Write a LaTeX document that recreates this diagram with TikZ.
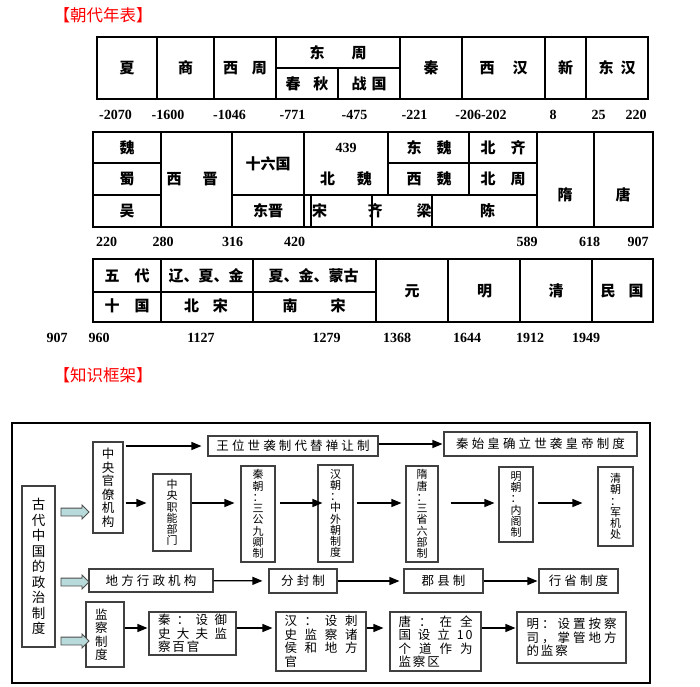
\documentclass[tikz,border=0pt]{standalone}
\usepackage{fontspec}
\usetikzlibrary{arrows.meta,shapes.arrows}
\newfontfamily\cjk{Noto Sans CJK SC}
\newfontfamily\cjkh[LetterSpace=25]{Noto Sans CJK SC}
\newfontfamily\cjkj[LetterSpace=15]{Noto Sans CJK SC}
\newfontfamily\numfont{Liberation Serif}
\definecolor{paleteal}{HTML}{B8DADA}
\newcommand{\jrow}[2]{\makebox[#1][s]{#2}}

\begin{document}
\begin{tikzpicture}[x=1pt,y=1pt,yscale=-1,
  tline/.style={line width=1.2pt},
  cell/.style={font=\cjk\bfseries\fontsize{15}{17}\selectfont, inner sep=0.75pt},
  yr/.style={font=\numfont\bfseries\fontsize{14}{16}\selectfont, inner sep=0.75pt},
  ttl/.style={font=\cjk\fontsize{16.5}{18}\selectfont, text=red, inner sep=0.75pt},
  fbox/.style={draw=black!75, line width=1.1pt, inner sep=0pt},
  vbox/.style={fbox, align=center, font=\cjk\fontsize{11}{11.25}\selectfont},
  hbox/.style={fbox, font=\cjkh\fontsize{12.5}{14}\selectfont},
  jbox/.style={fbox, align=left, font=\cjkj\fontsize{12.5}{13.5}\selectfont},
  arr/.style={-{Triangle[length=10pt,width=8pt]}, line width=1.2pt},
  fat/.style={single arrow, draw=black!70, fill=paleteal, line width=0.8pt, inner xsep=0pt,
    inner ysep=3.5pt, minimum height=28pt, single arrow head extend=3pt}]
\useasboundingbox (0,0) rectangle (700,686);

\node[ttl] (t1) at (103,15) {【朝代年表】};
\node[ttl] (t2) at (103,375) {【知识框架】};

\draw[tline] (97,37) rectangle (648,99);
\foreach \x in {157,214,276,400,462,545,586} \draw[tline] (\x,37) -- (\x,99);
\draw[tline] (276,68) -- (400,68);
\draw[tline] (338,68) -- (338,99);

\node[cell] (xia) at (127,68) {夏};
\node[cell] (shang) at (185.5,68) {商};
\node[cell] (xizhou) at (245,68) {西\hspace{14pt}周};
\node[cell] (dongzhou) at (338,52.5) {东\hspace{27pt}周};
\node[cell] (chunqiu) at (307,83.5) {春\hspace{13pt}秋};
\node[cell] (zhanguo) at (369,83.5) {战\hspace{5pt}国};
\node[cell] (qin) at (431,68) {秦};
\node[cell] (xihan) at (503.5,68) {西\hspace{18pt}汉};
\node[cell] (xin) at (565.5,68) {新};
\node[cell] (donghan) at (617,68) {东\hspace{7pt}汉};

\foreach \t/\x [count=\i] in {-2070/115.5,-1600/168,-1046/229.5,-771/292.5,-475/354.5,-221/414.5,-206-202/481,8/553,25/598.5,220/636}
  \node[yr] (ya\i) at (\x,115) {\t};

\draw[tline] (93,132) rectangle (653,227);
\foreach \x in {161,232,304,537,594} \draw[tline] (\x,132) -- (\x,227);
\draw[tline] (93,163) -- (161,163) (388,163) -- (537,163);
\draw[tline] (93,195) -- (161,195) (232,195) -- (537,195);
\foreach \x in {388,469} \draw[tline] (\x,132) -- (\x,195);
\foreach \x in {311,372,432} \draw[tline] (\x,195) -- (\x,227);

\node[cell] (wei) at (127,147.5) {魏};
\node[cell] (shu) at (127,179) {蜀};
\node[cell] (wu) at (127,211) {吴};
\node[cell] (xijin) at (192,179.5) {西\hspace{21pt}晋};
\node[cell] (shiliu) at (268,163.5) {十六国};
\node[cell] (dongjin) at (268,211) {东晋};
\node[cell] (n439) at (346,147.5) {\numfont\fontsize{14}{16}\selectfont 439};
\node[cell] (beiwei) at (346,179) {北\hspace{22pt}魏};
\node[cell] (song) at (319.5,211) {宋};
\node[cell] (qi) at (375,211) {齐};
\node[cell] (liang) at (424,211) {梁};
\node[cell] (chen) at (487.5,211) {陈};
\node[cell] (dongwei) at (429,147.5) {东\hspace{15pt}魏};
\node[cell] (xiwei) at (429,179) {西\hspace{15pt}魏};
\node[cell] (beiqi) at (503,147.5) {北\hspace{15pt}齐};
\node[cell] (beizhou) at (503,179) {北\hspace{15pt}周};
\node[cell] (sui) at (565,195) {隋};
\node[cell] (tang) at (623,195) {唐};

\foreach \t/\x [count=\i] in {220/106.5,280/163,316/232.5,420/294.5,589/527,618/589.5,907/638}
  \node[yr] (yb\i) at (\x,242) {\t};

\draw[tline] (93,259) rectangle (653,322);
\foreach \x in {161,253,376,448,520,592} \draw[tline] (\x,259) -- (\x,322);
\draw[tline] (93,292) -- (376,292);

\node[cell] (wudai) at (127,275.5) {五\hspace{15pt}代};
\node[cell] (shiguo) at (127,306) {十\hspace{15pt}国};
\node[cell] (liao) at (206,275.5) {辽、夏、金};
\node[cell] (beisong) at (206,306) {北\hspace{14pt}宋};
\node[cell] (menggu) at (313.5,275.5) {夏、金、蒙古};
\node[cell] (nansong) at (314,306) {南\hspace{33pt}宋};
\node[cell] (yuan) at (412,291) {元};
\node[cell] (ming) at (484.5,291) {明};
\node[cell] (qing) at (556,291) {清};
\node[cell] (minguo) at (622,291) {民\hspace{13pt}国};

\foreach \t/\x [count=\i] in {907/57,960/99,1127/201,1279/326.5,1368/397,1644/467,1912/530,1949/586}
  \node[yr] (yc\i) at (\x,338) {\t};

\draw[line width=1.1pt] (12,423) rectangle (650,683);

\node[vbox, font=\cjk\fontsize{13.5}{15.5}\selectfont, minimum width=33pt, minimum height=161pt] (gudai) at (38.5,566.5) {古\\代\\中\\国\\的\\政\\治\\制\\度};
\node[vbox, font=\cjk\fontsize{12.5}{13.5}\selectfont, minimum width=30pt, minimum height=91pt] (guanliao) at (108,487.5) {中\\央\\官\\僚\\机\\构};
\node[hbox, minimum width=170pt, minimum height=20pt] (wangwei) at (293,446) {王位世袭制代替禅让制};
\node[hbox, minimum width=193pt, minimum height=24pt] (qinshi) at (540.5,444) {秦始皇确立世袭皇帝制度};

\node[vbox, minimum width=38pt, minimum height=77pt] (zhineng) at (172,512.5) {中\\央\\职\\能\\部\\门};
\node[vbox, minimum width=34pt, minimum height=96pt] (qinchao) at (258,514) {秦\\朝\\：\\三\\公\\九\\卿\\制};
\node[vbox, minimum width=35pt, minimum height=97pt] (hanchao) at (335.5,513.5) {汉\\朝\\：\\中\\外\\朝\\制\\度};
\node[vbox, minimum width=32pt, minimum height=96pt] (suitang) at (422,514) {隋\\唐\\：\\三\\省\\六\\部\\制};
\node[vbox, minimum width=34pt, minimum height=75pt] (mingchao) at (516,504.5) {明\\朝\\：\\内\\阁\\制};
\node[vbox, minimum width=35pt, minimum height=79pt] (qingchao) at (615.5,506.5) {清\\朝\\：\\军\\机\\处};

\node[hbox, minimum width=124pt, minimum height=23pt] (difang) at (151,580.5) {地方行政机构};
\node[hbox, minimum width=68pt, minimum height=24pt] (fenfeng) at (303,581) {分封制};
\node[hbox, minimum width=79pt, minimum height=24pt] (junxian) at (443.5,581) {郡县制};
\node[hbox, minimum width=79pt, minimum height=24pt] (xingsheng) at (578.5,581) {行省制度};

\node[jbox, text width=20pt, inner xsep=9pt, minimum height=65pt] (jiancha) at (105,634.5) {监\\察\\制\\度};
\node[jbox, text width=69pt, minimum width=87pt, minimum height=43pt] (qinjian) at (192.5,633.5)
  {\jrow{69pt}{秦\hfill ：\hfill 设\hfill 御}\\ \jrow{69pt}{史\hfill 大\hfill 夫\hfill 监}\\ 察百官};
\node[jbox, text width=73pt, minimum width=90pt, minimum height=59pt] (hanjian) at (321,641.5)
  {\jrow{73pt}{汉\hfill ：\hfill 设\hfill 刺}\\ \jrow{73pt}{史\hfill 监\hfill 察\hfill 诸}\\ \jrow{73pt}{侯\hfill 和\hfill 地\hfill 方}\\ 官};
\node[jbox, text width=74pt, minimum width=91pt, minimum height=59pt] (tangjian) at (435.5,641.5)
  {\jrow{74pt}{唐\hfill ：\hfill 在\hfill 全}\\ \jrow{74pt}{国\hfill 设\hfill 立\hfill 10}\\ \jrow{74pt}{个\hfill 道\hfill 作\hfill 为}\\ 监察区};
\node[jbox, text width=90pt, minimum width=109pt, minimum height=51pt] (mingjian) at (571.5,637.5)
  {\jrow{90pt}{明\hfill ：\hfill 设\hfill 置\hfill 按\hfill 察}\\ \jrow{90pt}{司\hfill ，\hfill 掌\hfill 管\hfill 地\hfill 方}\\ 的监察};

\node[fat] (fa1) at (73,512) {};
\node[fat] (fa2) at (73,582) {};
\node[fat] (fa3) at (73,641) {};

\coordinate (midrow) at (0,503);
\coordinate (jrow) at (0,628);

\draw[arr, shorten <=2pt, shorten >=6pt] (guanliao.east |- wangwei.west) -- (wangwei.west);
\draw[arr, shorten >=1pt] (wangwei.east |- qinshi.west) -- (qinshi.west);

\draw[arr, shorten <=2pt, shorten >=6pt] (guanliao.east |- midrow) -- (zhineng.west |- midrow);
\draw[arr, shorten >=6pt] (zhineng.east |- midrow) -- (qinchao.west |- midrow);
\draw[arr, shorten <=4pt, shorten >=-5pt] (qinchao.east |- midrow) -- (hanchao.west |- midrow);
\draw[arr, shorten <=3pt, shorten >=4pt] (hanchao.east |- midrow) -- (suitang.west |- midrow);
\draw[arr, shorten <=12pt, shorten >=4pt] (suitang.east |- midrow) -- (mingchao.west |- midrow);
\draw[arr, shorten <=4pt, shorten >=15pt] (mingchao.east |- midrow) -- (qingchao.west |- midrow);

\draw[arr, shorten >=6pt] (difang) -- (fenfeng);
\draw[arr, shorten >=4pt] (fenfeng) -- (junxian);
\draw[arr, shorten >=1pt] (junxian) -- (xingsheng);

\draw[arr, shorten >=1pt] (jiancha.east |- jrow) -- (qinjian.west |- jrow);
\draw[arr, shorten >=3pt] (qinjian.east |- jrow) -- (hanjian.west |- jrow);
\draw[arr, shorten >=6pt] (hanjian.east |- jrow) -- (tangjian.west |- jrow);
\draw[arr, shorten >=1pt] (tangjian.east |- jrow) -- (mingjian.west |- jrow);
\end{tikzpicture}
\end{document}
